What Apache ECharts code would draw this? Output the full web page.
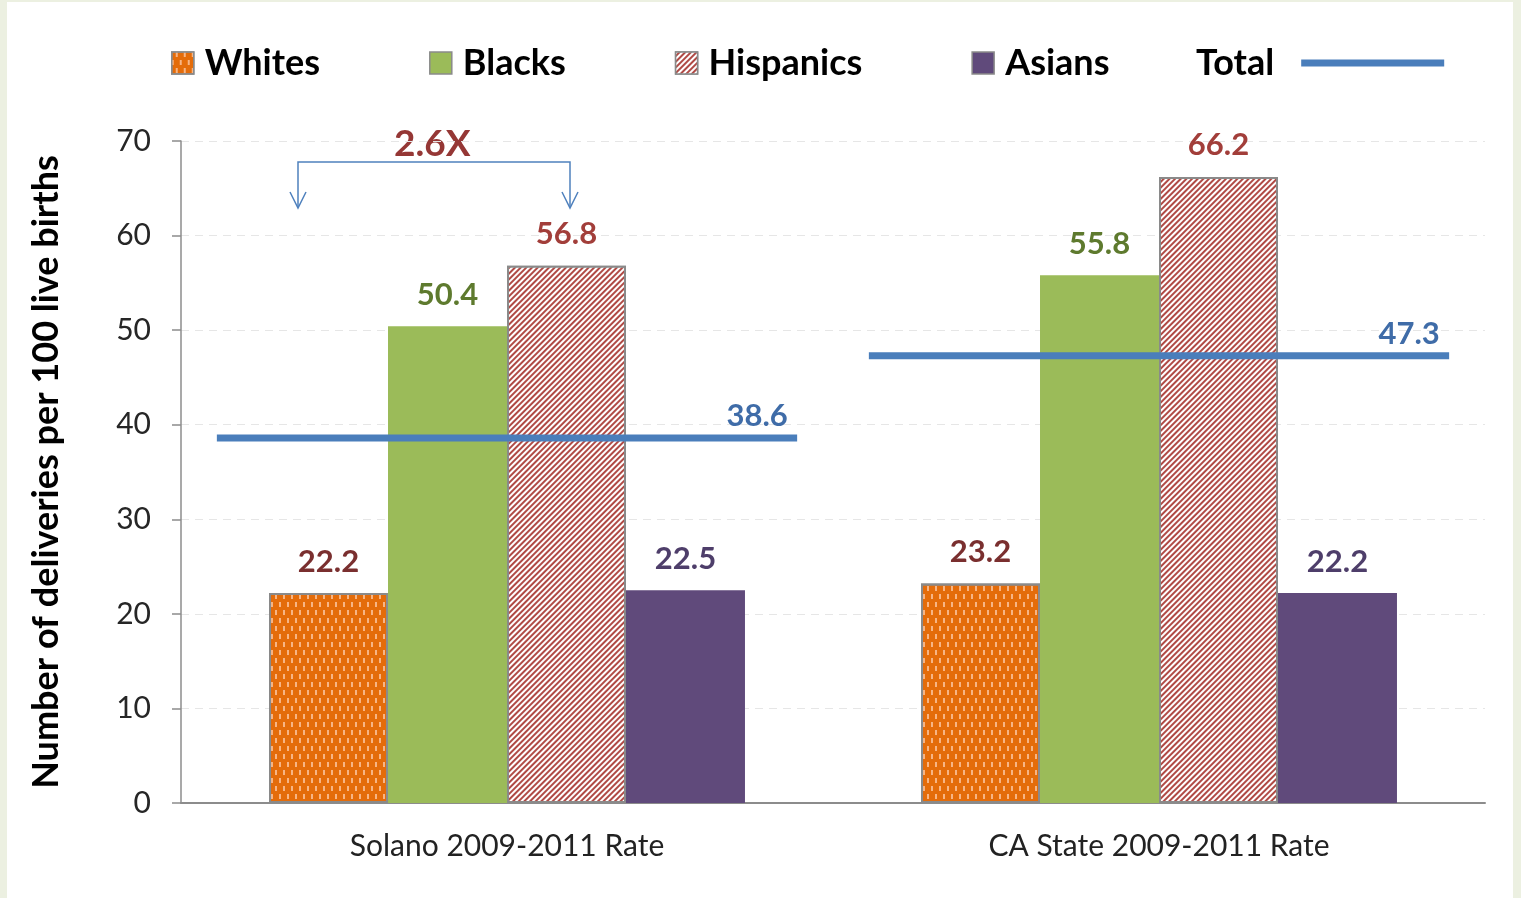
<!DOCTYPE html>
<html>
<head>
<meta charset="utf-8">
<script src="https://cdn.jsdelivr.net/npm/echarts@6/dist/echarts.min.js"></script>
<style>
  html, body { margin: 0; padding: 0; width: 1521px; height: 898px; background: #ecf0e1; overflow: hidden; }
  #chart { position: absolute; left: 7px; top: 2px; width: 1506px; height: 896px; background: #ffffff; }
</style>
</head>
<body>
<div id="chart"></div>
<script>
const categories = ['Solano 2009-2011 Rate', 'CA State 2009-2011 Rate'];
const seriesNames = ['Whites', 'Blacks', 'Hispanics', 'Asians'];
const whites = [22.2, 23.2];
const blacks = [50.4, 55.8];
const hispanics = [56.8, 66.2];
const asians = [22.5, 22.2];
const total = [38.6, 47.3];
const yTicks = [0, 10, 20, 30, 40, 50, 60, 70];
const annotationText = '2.6X';

const FONT = 'Lato';
const chart = echarts.init(document.getElementById('chart'), null, { renderer: 'canvas' });

const labelCfg = (color) => ({
  show: true, position: 'top', distance: 16,
  fontFamily: FONT, fontWeight: 'bold', fontSize: 31, color: color,
  formatter: (p) => p.value.toFixed(1)
});

const option = {
  animation: false,
  backgroundColor: '#ffffff',
  legend: [{
    data: seriesNames.map(n => ({ name: n, icon: 'rect' })),
    left: 159, top: 38,
    itemWidth: 22, itemHeight: 22, itemGap: 109,
    itemStyle: { borderColor: '#8a8a8a', borderWidth: 1.5 },
    textStyle: { fontFamily: FONT, fontWeight: 'bold', fontSize: 36, color: '#000', padding: [0, 0, 0, 6] },
    selectedMode: false
  }, {
    data: [{ name: 'Total', icon: 'rect' }],
    left: 1184, top: 38,
    align: 'right',
    itemWidth: 143, itemHeight: 7,
    itemStyle: { borderWidth: 0 },
    textStyle: { fontFamily: FONT, fontWeight: 'bold', fontSize: 36, color: '#000', padding: [0, 22, 0, 0] },
    selectedMode: false
  }],
  grid: { left: 174, right: 28, top: 139, bottom: 95 },
  xAxis: {
    type: 'category', data: categories,
    axisLine: { lineStyle: { color: '#8c8c8c', width: 2 } },
    axisTick: { show: false },
    axisLabel: { fontFamily: FONT, fontSize: 30, color: '#222', margin: 28 }
  },
  yAxis: {
    type: 'value', min: 0, max: 70, interval: 10,
    name: 'Number of deliveries per 100 live births',
    nameLocation: 'middle', nameGap: 117,
    nameTextStyle: { fontFamily: FONT, fontWeight: 'bold', fontSize: 36, color: '#000' },
    axisLine: { show: true, lineStyle: { color: '#8c8c8c', width: 1.5 } },
    axisTick: { show: true, length: 9, lineStyle: { color: '#8c8c8c', width: 1.5 } },
    axisLabel: { fontFamily: FONT, fontSize: 30, color: '#262626', margin: 30,
      formatter: (v) => yTicks.includes(v) ? String(v) : '' },
    splitLine: { show: true, lineStyle: { color: '#e6e6e6', type: [8, 6], width: 1 } }
  },
  series: [{
    name: 'Whites', type: 'bar', data: whites, barGap: '0%', barCategoryGap: '27%',
    itemStyle: { color: '#e46c0a', borderColor: '#8a8a8a', borderWidth: 2,
      decal: { symbol: 'rect', symbolSize: 1, color: '#f7b585',
        dashArrayX: [[1.5, 5.5], [0, 3.5, 1.5, 2]], dashArrayY: [5, 3] } },
    label: labelCfg('#7a2f2f')
  }, {
    name: 'Blacks', type: 'bar', data: blacks,
    itemStyle: { color: '#9bbb59' },
    label: labelCfg('#5e7a2e')
  }, {
    name: 'Hispanics', type: 'bar', data: hispanics,
    itemStyle: { color: '#b04a45', borderColor: '#8a8a8a', borderWidth: 2,
      decal: { symbol: 'rect', symbolSize: 1, color: '#ffffff',
        dashArrayX: [1, 0], dashArrayY: [2, 2], rotation: -Math.PI / 4 } },
    label: labelCfg('#a23e3a')
  }, {
    name: 'Asians', type: 'bar', data: asians,
    itemStyle: { color: '#604a7b' },
    label: labelCfg('#4e3e6a')
  }, {
    name: 'Total', type: 'custom',
    itemStyle: { color: '#4a7ebb' },
    data: total.map((v, i) => [i, v]),
    z: 5,
    renderItem: (params, api) => {
      const idx = api.value(0), val = api.value(1);
      const c = api.coord([idx, val]);
      const bw = api.size([1, 0])[0];
      const half = bw * 0.445;
      return {
        type: 'group', children: [
          { type: 'line', shape: { x1: c[0] - half, y1: c[1], x2: c[0] + half, y2: c[1] },
            style: { stroke: '#4a7ebb', lineWidth: 7 } },
          { type: 'text', style: { text: val.toFixed(1), x: c[0] + half - 40, y: c[1] - 22,
              align: 'center', verticalAlign: 'middle',
              fontFamily: FONT, fontWeight: 'bold', fontSize: 31, fill: '#3f6ca8' } }
        ]
      };
    }
  }],
  graphic: [{
    type: 'text', left: 387, top: 124,
    style: { text: annotationText, fontFamily: FONT, fontWeight: 'bold', fontSize: 37, fill: '#953735' }
  }, {
    type: 'polyline',
    shape: { points: [[291, 205], [291, 160], [563, 160], [563, 205]] },
    style: { stroke: '#4f81bd', lineWidth: 1.5, fill: null }
  }, {
    type: 'polyline',
    shape: { points: [[283, 190], [291, 206], [299, 190]] },
    style: { stroke: '#4f81bd', lineWidth: 1.5, fill: null }
  }, {
    type: 'polyline',
    shape: { points: [[555, 190], [563, 206], [571, 190]] },
    style: { stroke: '#4f81bd', lineWidth: 1.5, fill: null }
  }]
};
chart.setOption(option);
</script>
</body>
</html>
